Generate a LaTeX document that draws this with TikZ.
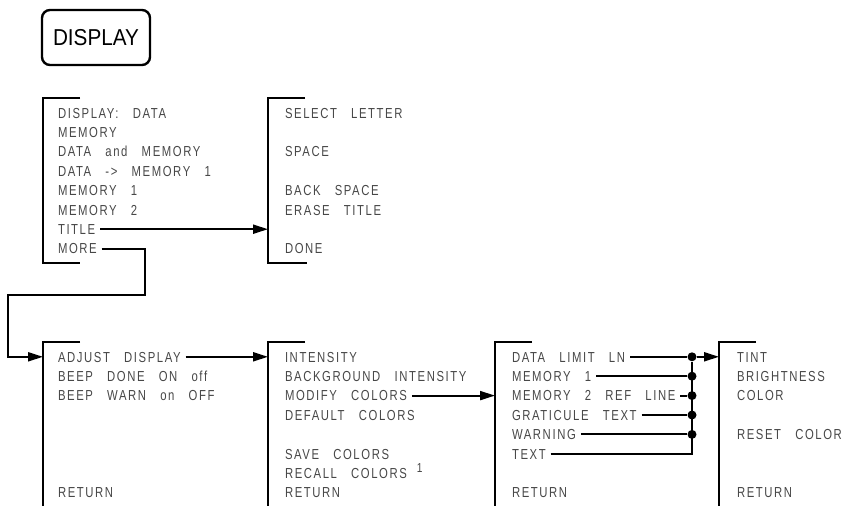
\documentclass[tikz,border=0pt]{standalone}
\usepackage{fontspec}
\setmainfont{Liberation Sans}[FakeStretch=0.78,LetterSpace=11,WordSpace=3]
\newfontfamily\keyfont{Liberation Sans}[FakeStretch=0.9]
\usetikzlibrary{arrows.meta}

\begin{document}
\begin{tikzpicture}[x=1pt,y=-1pt,
    item/.style={anchor=base west,inner sep=0pt,outer xsep=5pt,text height=10.4pt,text depth=0pt,
      text=black!72,font=\fontsize{14.5}{14.5}\selectfont},
    bracket/.style={line width=2.2pt},
    conn/.style={line width=2pt},
    arr/.style={conn,-{Triangle[length=15pt,width=9pt]}},
    dot/.style={circle,fill,inner sep=0pt,minimum size=9pt}]
  \useasboundingbox (0,0) rectangle (848,506);

  % hard key
  \node[draw,line width=2.4pt,rounded corners=8pt,minimum width=108pt,minimum height=55pt,
    font=\keyfont\fontsize{23}{23}\selectfont] (key) at (96,37.5) {DISPLAY};

  % menu brackets
  \coordinate (m1) at (43,98);
  \coordinate (m2) at (268,98);
  \coordinate (m3) at (43,342);
  \coordinate (m4) at (268,342);
  \coordinate (m5) at (495,342);
  \coordinate (m6) at (719,342);
  \draw[bracket] (80,98) -- (m1) -- (43,263) -- (80,263);
  \draw[bracket] (305,98) -- (m2) -- (268,263) -- (307,263);
  \foreach \m in {m3,m4,m5,m6}
    \draw[bracket] ([xshift=37pt]\m) -- (\m) -- ++(0,164);

  % softkey labels
  \foreach \i/\t in {1/DISPLAY:  DATA,2/MEMORY,3/DATA  and  MEMORY,4/DATA  ->  MEMORY  1,
      5/MEMORY  1,6/MEMORY  2,7/TITLE,8/MORE}
    \node[item] (a\i) at (53,{118+(\i-1)*19.4}) {\t};
  \foreach \i/\t in {1/SELECT  LETTER,3/SPACE,5/BACK  SPACE,6/ERASE  TITLE,8/DONE}
    \node[item] (b\i) at (280,{118+(\i-1)*19.4}) {\t};
  \foreach \i/\t in {1/ADJUST  DISPLAY,2/BEEP  DONE  ON  off,3/BEEP  WARN  on  OFF,8/RETURN}
    \node[item] (c\i) at (53,{362+(\i-1)*19.4}) {\t};
  \foreach \i/\t in {1/INTENSITY,2/BACKGROUND  INTENSITY,3/MODIFY  COLORS,4/DEFAULT  COLORS,
      6/SAVE  COLORS,7/RECALL  COLORS\hspace{10pt}\raisebox{6pt}{\fontsize{13}{13}\selectfont 1},8/RETURN}
    \node[item] (d\i) at (280,{362+(\i-1)*19.4}) {\t};
  \foreach \i/\t in {1/DATA  LIMIT  LN,2/MEMORY  1,3/MEMORY  2  REF  LINE,4/GRATICULE  TEXT,
      5/WARNING,6/TEXT,8/RETURN}
    \node[item] (e\i) at (507,{362+(\i-1)*19.4}) {\t};
  \foreach \i/\t in {1/TINT,2/BRIGHTNESS,3/COLOR,5/RESET  COLOR,8/RETURN}
    \node[item] (f\i) at (732,{362+(\i-1)*19.4}) {\t};

  % connections
  \draw[arr] (a7.east) -- (a7.east -| m2);
  \coordinate (loopR) at (145,295);
  \coordinate (loopL) at (8,295);
  \draw[arr] (a8.east) -| (loopR) -- (loopL) |- (c1.east -| m3);
  \draw[arr] (c1.east) -- (c1.east -| m4);
  \draw[arr] (d3.east) -- (d3.east -| m5);
  \coordinate (bus) at (692,0);
  \foreach \i in {1,...,5} {
    \node[dot] (p\i) at (e\i.east -| bus) {};
    \draw[conn] (e\i.east) -- (p\i);
  }
  \draw[conn] (e6.east) -| (p1);
  \draw[arr] (p1) -- (p1 -| m6);
\end{tikzpicture}
\end{document}
